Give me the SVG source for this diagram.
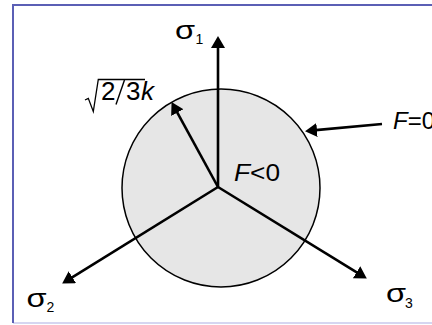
<svg xmlns="http://www.w3.org/2000/svg" width="432" height="325" viewBox="0 0 432 325">
<style>
.ax{stroke:#000;stroke-width:2.6;fill:none;marker-end:url(#ah)}
.t{font-family:"Liberation Sans",Arial,sans-serif;fill:#000}
.sg{font-family:"Liberation Sans",Arial,sans-serif;font-size:25px;fill:#000}
.sub{font-size:14px}
.it{font-style:italic}
</style>
<defs>
<marker id="ah" markerUnits="userSpaceOnUse" markerWidth="13" markerHeight="14" refX="4" refY="7" orient="auto" viewBox="0 0 13 14">
<path d="M0,0 L12,7 L0,14 z" fill="#000"/>
</marker>
</defs>
<rect x="0" y="0" width="432" height="325" fill="#fff"/>
<line x1="13" y1="323" x2="432" y2="323" stroke="#c9c9ec" stroke-width="1.5"/>
<path d="M432,5 H13 V323" fill="none" stroke="#5b5fb5" stroke-width="2"/>
<g id="circle">
<circle cx="221" cy="188" r="99" fill="#e6e6e6" stroke="#000" stroke-width="1.5"/>
</g>
<g id="connectors">
<line class="ax" x1="218" y1="187" x2="218" y2="44"/>
<line class="ax" x1="218" y1="187" x2="68.95" y2="279.3"/>
<line class="ax" x1="218" y1="187" x2="360" y2="274.3"/>
<line class="ax" x1="218" y1="187" x2="175.4" y2="109.1"/>
<line class="ax" x1="382" y1="124" x2="313" y2="130.4"/>
</g>
<g id="sigma1">
<text class="sg" transform="translate(175,38.5) scale(1.3,1)">σ</text>
<text class="t sub" x="195.5" y="43.5">1</text>
</g>
<g id="sigma2">
<text class="sg" transform="translate(26.5,306.5) scale(1.3,1)">σ</text>
<text class="t sub" x="46.5" y="311.5">2</text>
</g>
<g id="sigma3">
<text class="sg" transform="translate(386,302) scale(1.3,1)">σ</text>
<text class="t sub" x="405" y="308">3</text>
</g>
<g id="radius-label">
<path d="M85,100 L88.3,98.3 L93.3,111.5 L98.3,79.5 H145" fill="none" stroke="#000" stroke-width="1.3"/>
<text class="t" font-size="26" x="101" y="100">2</text>
<line x1="124.5" y1="80" x2="116" y2="104.5" stroke="#000" stroke-width="1.4"/>
<text class="t" font-size="26" x="126" y="100">3</text>
<text class="t it" font-size="26" x="141" y="100">k</text>
</g>
<g id="F-zero">
<text class="t it" font-size="24" x="393" y="129">F<tspan font-style="normal">=0</tspan></text>
</g>
<g id="F-neg">
<text class="t it" font-size="24" x="234" y="181" textLength="46" lengthAdjust="spacingAndGlyphs">F<tspan font-style="normal">&lt;0</tspan></text>
</g>
</svg>
